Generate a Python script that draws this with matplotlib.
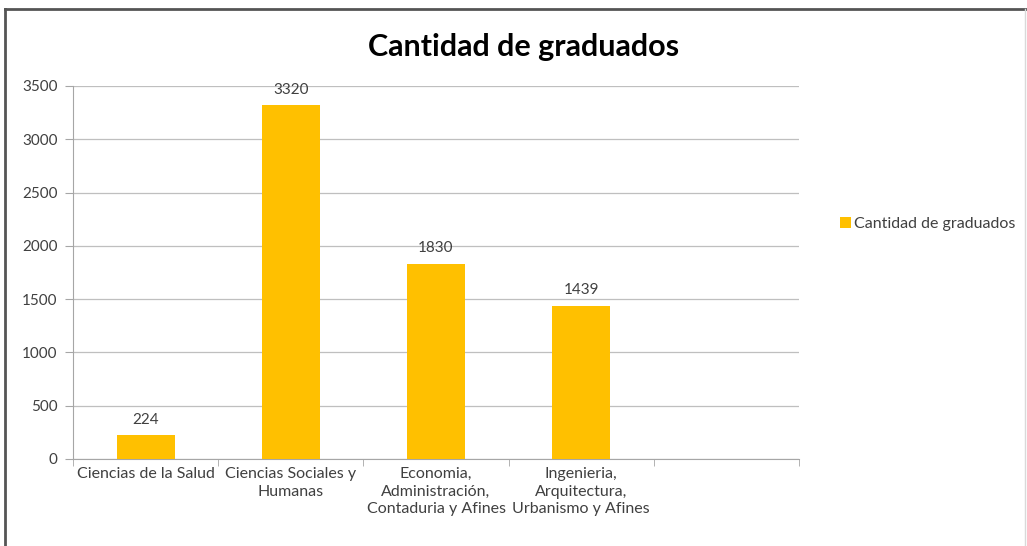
import matplotlib.pyplot as plt
from matplotlib.lines import Line2D

# datos del grafico
categorias = ['Ciencias de la Salud', 'Ciencias Sociales y\nHumanas',
              'Economia,\nAdministración,\nContaduria y Afines',
              'Ingenieria,\nArquitectura,\nUrbanismo y Afines', '']
graduados = [224, 3320, 1830, 1439, None]
serie = 'Cantidad de graduados'

plt.rcParams['font.family'] = ['Lato', 'DejaVu Sans']
color_barra = '#FFC000'
gris_texto = '#404040'

fig = plt.figure(figsize=(10.27, 5.46), dpi=100)
ax = fig.add_axes([73 / 1027, 1 - 459 / 546, 726 / 1027, 373 / 546])

pos = [i for i, v in enumerate(graduados) if v is not None]
vals = [v for v in graduados if v is not None]
bars = ax.bar(pos, vals, width=0.40, color=color_barra, label=serie, zorder=3)
for b, v in zip(bars, vals):
    ax.text(b.get_x() + b.get_width() / 2, v + 80, str(v), ha='center', va='bottom',
            fontsize=11, color=gris_texto)

ax.set_xlim(-0.5, len(categorias) - 0.5)
ax.set_ylim(0, 3500)
ax.set_yticks(range(0, 3501, 500))
ax.set_xticks(range(len(categorias)))
ax.set_xticklabels(categorias, fontsize=11.5, color=gris_texto, linespacing=1.3)
ax.tick_params(axis='x', length=0, pad=6)
ax.set_xticks([i - 0.5 for i in range(len(categorias) + 1)], minor=True)
ax.tick_params(axis='x', which='minor', length=5, color='#a6a6a6', direction='out')
ax.tick_params(axis='y', length=6, color='#a6a6a6', labelsize=11, labelcolor=gris_texto, pad=5)

ax.grid(axis='y', color='#bfbfbf', linewidth=0.9, zorder=0)
for s in ['top', 'right']:
    ax.spines[s].set_visible(False)
for s in ['left', 'bottom']:
    ax.spines[s].set_color('#a6a6a6')

fig.text(524 / 1027, 1 - 47 / 546, 'Cantidad de graduados', ha='center', va='center',
         fontsize=22, fontweight='bold', color='black')

ax.legend(loc='center left', bbox_to_anchor=(826 / 1027, 1 - 224 / 546),
          bbox_transform=fig.transFigure, frameon=False, fontsize=11.5,
          handlelength=0.65, handleheight=0.65, handletextpad=0.2, labelcolor=gris_texto)

# marco del grafico
fig.add_artist(Line2D([5 / 1027, 5 / 1027], [0, 1 - 9 / 546], color='#555555', linewidth=2))
fig.add_artist(Line2D([5 / 1027, 1], [1 - 9 / 546, 1 - 9 / 546], color='#555555', linewidth=2))
fig.add_artist(Line2D([1025 / 1027, 1025 / 1027], [0, 1 - 9 / 546], color='#d9d9d9', linewidth=1))

fig.savefig('out.png', dpi=100)
